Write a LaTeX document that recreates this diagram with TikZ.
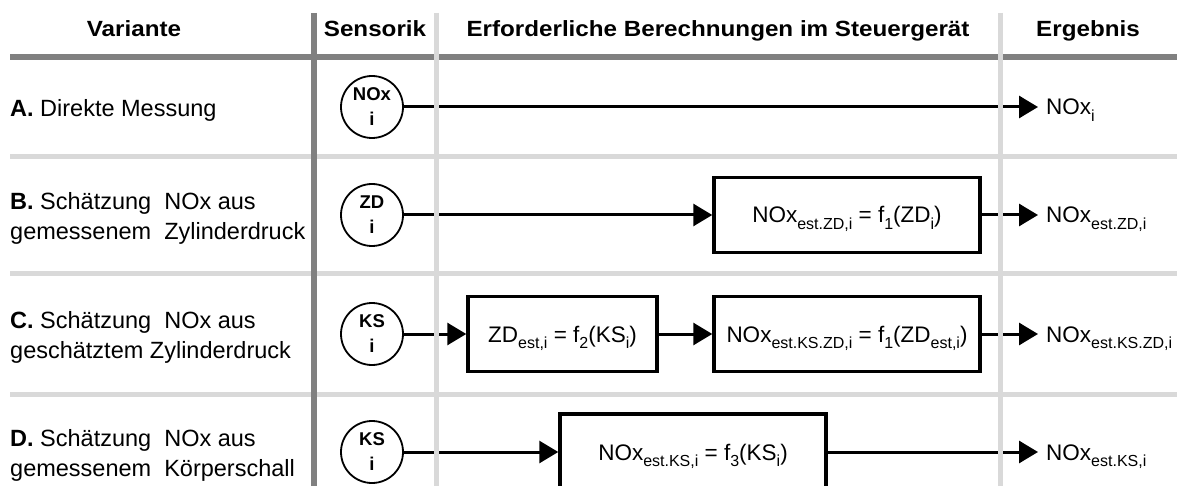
\documentclass[tikz,border=0pt]{standalone}
\usepackage{fontspec}
\setmainfont{Liberation Sans}
\newfontfamily\hdfont[FakeStretch=1.1]{Liberation Sans}
\usetikzlibrary{arrows.meta}
\definecolor{dgray}{HTML}{808080}
\definecolor{lgray}{HTML}{D9D9D9}
\newcommand\lowx[1]{\raisebox{-6.5pt}{\fontsize{16}{16}\selectfont #1}}
\begin{document}
\begin{tikzpicture}[x=1pt,y=-1pt,
  sensor/.style={circle, draw, line width=1.8pt, minimum size=62pt, inner sep=0pt, align=center,
    font=\fontsize{18.5}{25}\selectfont\bfseries},
  calc/.style={draw, line width=3.5pt, inner sep=0pt, text height=16pt, text depth=0pt,
    font=\fontsize{22.5}{27}\selectfont},
  res/.style={anchor=west, inner sep=0pt, text height=16pt, text depth=0pt,
    font=\fontsize{22.5}{27}\selectfont},
  head/.style={inner sep=0pt, text height=16pt, text depth=0pt, font=\hdfont\bfseries\fontsize{22}{26}\selectfont},
  variant/.style={anchor=west, inner sep=0pt, align=left, font=\fontsize{23.5}{30}\selectfont},
  arr/.style={line width=3pt, -{Triangle[length=19pt,width=22pt]}},
  dline/.style={dgray, line width=6pt},
  lline/.style={lgray, line width=5pt}]
\useasboundingbox (0,0) rectangle (1177,486);
% horizontal rules
\draw[dline] (10,57) -- (1177,57);
\foreach \yy in {157,273,394} \draw[lline] (10,\yy) -- (1177,\yy);
% header
\node[head] (h1) at (134,28.5) {Variante};
\node[head] (h2) at (375,28.5) {Sensorik};
\node[head] (h3) at (718,28.5) {Erforderliche Berechnungen im Steuergerät};
\node[head] (h4) at (1088,28.5) {Ergebnis};
% variants
\node[variant] (vA) at (10,110) {\textbf{A.} Direkte Messung};
\node[variant] (vB) at (10,218) {\textbf{B.} Schätzung~ NOx aus\\gemessenem~ Zylinderdruck};
\node[variant] (vC) at (10,337) {\textbf{C.} Schätzung~ NOx aus\\geschätztem Zylinderdruck};
\node[variant] (vD) at (10,455) {\textbf{D.} Schätzung~ NOx aus\\gemessenem~ Körperschall};
% sensors
\node[sensor] (sA) at (372,107) {NOx\\i};
\node[sensor] (sB) at (372,215) {ZD\\i};
\node[sensor] (sC) at (372,334) {KS\\i};
\node[sensor] (sD) at (372,452) {KS\\i};
% calculation boxes
\node[calc, minimum width=266pt, minimum height=75pt] (bB) at (847,215) {NOx\lowx{est.ZD,i} = f\lowx{1}(ZD\lowx{i})};
\node[calc, minimum width=189pt, minimum height=75pt] (bC1) at (562.5,334) {ZD\lowx{est,i} = f\lowx{2}(KS\lowx{i})};
\node[calc, minimum width=266pt, minimum height=75pt] (bC2) at (847,334) {NOx\lowx{est.KS.ZD,i} = f\lowx{1}(ZD\lowx{est,i})};
\node[calc, minimum width=266pt, minimum height=76pt] (bD) at (693,452) {NOx\lowx{est.KS,i} = f\lowx{3}(KS\lowx{i})};
% results
\coordinate (tA) at (1038,107);
\coordinate (tB) at (1038,215);
\coordinate (tC) at (1038,334);
\coordinate (tD) at (1038,452);
\node[res] (rA) at (1046,107) {NOx\lowx{i}};
\node[res] (rB) at (1046,215) {NOx\lowx{est.ZD,i}};
\node[res] (rC) at (1046,334) {NOx\lowx{est.KS.ZD,i}};
\node[res] (rD) at (1046,452) {NOx\lowx{est.KS,i}};
% arrows
\draw[arr] (sA.east) -- (tA);
\draw[arr] (sB.east) -- (bB.west);
\draw[arr] (bB.east) -- (tB);
\draw[arr] (sC.east) -- (bC1.west);
\draw[arr] (bC1.east) -- (bC2.west);
\draw[arr] (bC2.east) -- (tC);
\draw[arr] (sD.east) -- (bD.west);
\draw[arr] (bD.east) -- (tD);
% vertical rules
\draw[lline] (436,13) -- (436,490);
\draw[lline] (1000,13) -- (1000,490);
\draw[dgray, line width=5.5pt] (314,13) -- (314,490);
\end{tikzpicture}
\end{document}
